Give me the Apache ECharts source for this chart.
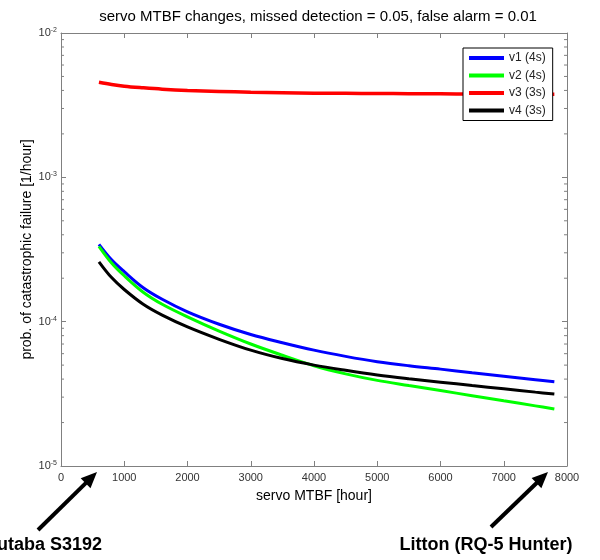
<!DOCTYPE html>
<html><head><meta charset="utf-8">
<script src="https://cdn.jsdelivr.net/npm/echarts@6/dist/echarts.min.js"></script>
<style>html,body{margin:0;padding:0;background:#fff}#c{width:600px;height:560px}</style>
</head><body><div id="c"></div>
<script>
var FONT = 'Liberation Sans, Arial, sans-serif';
var mtbf = [600, 800, 1000, 1300, 1600, 2000, 2500, 3000, 3500, 4000, 4500, 5000, 5500, 6000, 6500, 7000, 7500, 7800];
var v1 = [3.43e-4, 2.68e-4, 2.22e-4, 1.72e-4, 1.43e-4, 1.17e-4, 9.6e-5, 8.15e-5, 7.15e-5, 6.35e-5, 5.75e-5, 5.28e-5, 4.95e-5, 4.69e-5, 4.43e-5, 4.19e-5, 3.96e-5, 3.83e-5];
var v2 = [3.33e-4, 2.55e-4, 2.08e-4, 1.60e-4, 1.32e-4, 1.08e-4, 8.6e-5, 7.0e-5, 5.85e-5, 4.95e-5, 4.35e-5, 3.92e-5, 3.61e-5, 3.33e-5, 3.07e-5, 2.83e-5, 2.61e-5, 2.48e-5];
var v3 = [4.56e-3, 4.4e-3, 4.28e-3, 4.17e-3, 4.08e-3, 4.0e-3, 3.94e-3, 3.89e-3, 3.86e-3, 3.83e-3, 3.82e-3, 3.81e-3, 3.80e-3, 3.79e-3, 3.78e-3, 3.78e-3, 3.77e-3, 3.77e-3];
var v4 = [2.6e-4, 2.02e-4, 1.67e-4, 1.32e-4, 1.11e-4, 9.2e-5, 7.55e-5, 6.35e-5, 5.55e-5, 5.0e-5, 4.6e-5, 4.27e-5, 4.02e-5, 3.81e-5, 3.61e-5, 3.43e-5, 3.25e-5, 3.15e-5];
var seriesNames = ['v1 (4s)', 'v2 (4s)', 'v3 (3s)', 'v4 (3s)'];
var seriesColors = ['#0000ff', '#00ff00', '#ff0000', '#000000'];
var xTicks = [0, 1000, 2000, 3000, 4000, 5000, 6000, 7000, 8000];
var yMinorTicks = [2e-5,3e-5,4e-5,5e-5,6e-5,7e-5,8e-5,9e-5,2e-4,3e-4,4e-4,5e-4,6e-4,7e-4,8e-4,9e-4,2e-3,3e-3,4e-3,5e-3,6e-3,7e-3,8e-3,9e-3];
var titleText = 'servo MTBF changes, missed detection = 0.05, false alarm = 0.01';
var xName = 'servo MTBF [hour]';
var yName = 'prob. of catastrophic failure [1/hour]';
var annLeft = 'Futaba S3192';
var annRight = 'Litton (RQ-5 Hunter)';

var AXIS_COLOR = '#808080';
var chart = echarts.init(document.getElementById('c'), null, {renderer: 'canvas'});

function zip(xs, ys) { return xs.map(function (x, i) { return [x, ys[i]]; }); }
var allY = [v1, v2, v3, v4];

function arrow(tail, tip) {
  var dx = tip[0] - tail[0], dy = tip[1] - tail[1];
  var L = Math.sqrt(dx * dx + dy * dy);
  var ux = dx / L, uy = dy / L, nx = -uy, ny = ux;
  var hl = 16, hw = 7;
  var bx = tip[0] - hl * ux, by = tip[1] - hl * uy;
  return [
    {type: 'line', shape: {x1: tail[0], y1: tail[1], x2: bx + ux * 2, y2: by + uy * 2}, style: {stroke: '#000', lineWidth: 4}},
    {type: 'polygon', shape: {points: [[tip[0], tip[1]], [bx + hw * nx, by + hw * ny], [bx - hw * nx, by - hw * ny]]}, style: {fill: '#000'}}
  ];
}

var series = seriesNames.map(function (n, i) {
  return {
    name: n, type: 'line', data: zip(mtbf, allY[i]), symbol: 'none', smooth: 0.35,
    lineStyle: {color: seriesColors[i], width: i === 2 ? 3.5 : 3}, itemStyle: {color: seriesColors[i]}, z: 3
  };
});
series.push({
  type: 'custom', name: 'minorTicks', silent: true, z: 5,
  data: yMinorTicks.map(function (v) { return [0, v]; }),
  renderItem: function (params, api) {
    var cs = params.coordSys;
    var y = api.coord([0, api.value(1)])[1];
    return {type: 'group', children: [
      {type: 'line', shape: {x1: cs.x, y1: y, x2: cs.x + 3, y2: y}, style: {stroke: AXIS_COLOR, lineWidth: 1}},
      {type: 'line', shape: {x1: cs.x + cs.width - 3, y1: y, x2: cs.x + cs.width, y2: y}, style: {stroke: AXIS_COLOR, lineWidth: 1}}
    ]};
  }
});

var yLabelFmt = function (v) { var e = Math.round(Math.log10(v)); return '10{s|' + e + '}'; };

var option = {
  animation: false,
  backgroundColor: '#fff',
  textStyle: {fontFamily: FONT},
  title: {text: titleText, left: 313, top: 4, textAlign: 'center',
    textStyle: {fontFamily: FONT, fontSize: 15, fontWeight: 'normal', color: '#000'}},
  grid: {left: 61, right: 33, top: 33, bottom: 94, containLabel: false},
  legend: {
    data: seriesNames, orient: 'vertical', left: 463, top: 48,
    backgroundColor: '#fff', borderColor: '#000', borderWidth: 1,
    padding: [4, 7, 4, 6], itemGap: 5.5, itemWidth: 35, itemHeight: 4, icon: 'rect',
    textStyle: {fontFamily: FONT, fontSize: 12, color: '#222'}
  },
  xAxis: [
    {type: 'value', min: 0, max: 8000, interval: 1000, position: 'bottom',
      name: xName, nameLocation: 'middle', nameGap: 23,
      nameTextStyle: {fontFamily: FONT, fontSize: 14, color: '#000'},
      axisLine: {show: true, onZero: false, lineStyle: {color: AXIS_COLOR, width: 1}},
      axisTick: {show: true, inside: true, length: 5, lineStyle: {color: AXIS_COLOR}},
      axisLabel: {fontFamily: FONT, fontSize: 11, color: '#333', margin: 6,
        formatter: function (v) { return xTicks.indexOf(v) >= 0 ? String(v) : ''; }},
      splitLine: {show: false}},
    {type: 'value', min: 0, max: 8000, interval: 1000, position: 'top',
      axisLine: {show: true, onZero: false, lineStyle: {color: AXIS_COLOR, width: 1}},
      axisTick: {show: true, inside: true, length: 5, lineStyle: {color: AXIS_COLOR}},
      axisLabel: {show: false}, splitLine: {show: false}}
  ],
  yAxis: [
    {type: 'log', logBase: 10, min: 1e-5, max: 1e-2, position: 'left',
      name: yName, nameLocation: 'middle', nameGap: 27, nameRotate: 90, nameMoveOverlap: false,
      nameTextStyle: {fontFamily: FONT, fontSize: 14, color: '#000'},
      axisLine: {show: true, onZero: false, lineStyle: {color: AXIS_COLOR, width: 1}},
      axisTick: {show: true, inside: true, length: 5, lineStyle: {color: AXIS_COLOR}},
      axisLabel: {fontFamily: FONT, fontSize: 11, color: '#333', margin: 4, formatter: yLabelFmt,
        rich: {s: {fontFamily: FONT, fontSize: 7, color: '#333', verticalAlign: 'top', padding: [0, 0, 6, 0]}}},
      splitLine: {show: false}},
    {type: 'log', logBase: 10, min: 1e-5, max: 1e-2, position: 'right',
      axisLine: {show: true, onZero: false, lineStyle: {color: AXIS_COLOR, width: 1}},
      axisTick: {show: true, inside: true, length: 5, lineStyle: {color: AXIS_COLOR}},
      axisLabel: {show: false}, splitLine: {show: false}}
  ],
  series: series,
  graphic: [].concat(
    arrow([38, 530], [97, 472]),
    arrow([491, 527], [548, 472]),
    [
      {type: 'text', x: 44, y: 545, style: {text: annLeft, font: 'bold 18px ' + FONT, fill: '#000', align: 'center', verticalAlign: 'middle'}},
      {type: 'text', x: 486, y: 545, style: {text: annRight, font: 'bold 18px ' + FONT, fill: '#000', align: 'center', verticalAlign: 'middle'}}
    ]
  )
};
chart.setOption(option);
</script></body></html>
